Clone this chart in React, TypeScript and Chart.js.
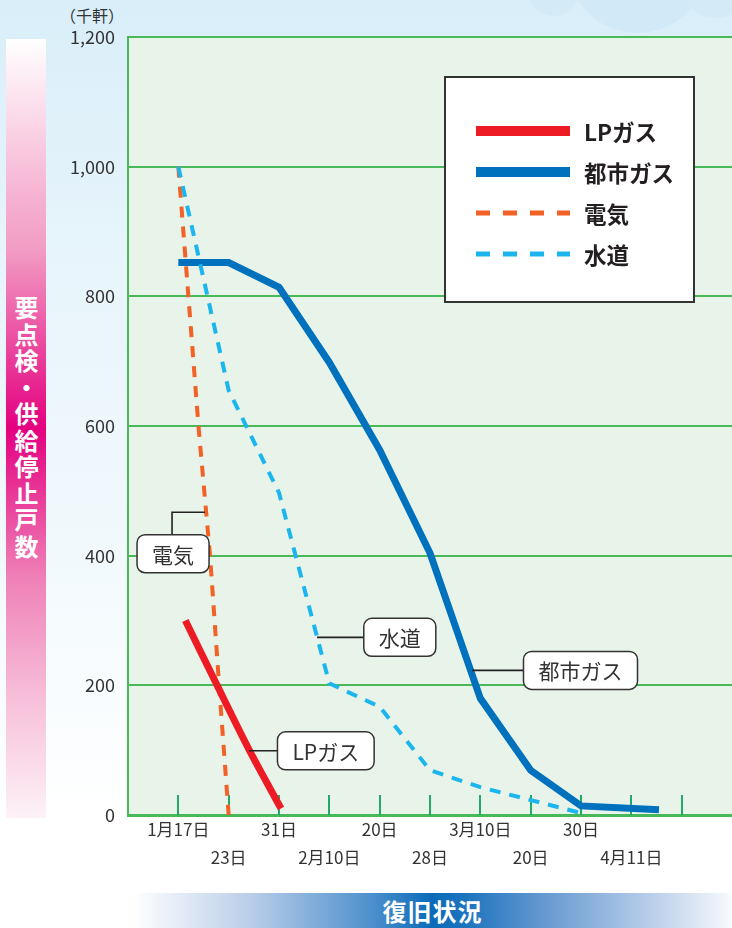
import React, { useEffect, useRef } from 'react';
import { Chart, registerables } from 'chart.js';

Chart.register(...registerables);

// ---- data (x in date-step units: 0 = 1月17日, 1 = 23日, ...) ----
const dateLabels = ['1月17日', '23日', '31日', '2月10日', '20日', '28日', '3月10日', '20日', '30日', '4月11日'];
const yTickValues = [0, 200, 400, 600, 800, 1000, 1200];

const lpgasX = [0.14, 0.77, 1.41, 2.04];
const lpgasY = [300, 200, 100, 10];

const cityGasX = [0, 1, 2, 3, 4, 5, 6, 7, 8, 9.55];
const cityGasY = [852, 852, 814, 698, 563, 404, 180, 69, 14, 8];

const electricX = [0, 0.2, 0.4, 0.63, 0.81, 1.0];
const electricY = [1000, 800, 600, 400, 200, 0];

const waterX = [0, 1, 2, 3, 4, 5, 6, 7, 8];
const waterY = [1000, 655, 497, 203, 167, 69, 43, 23, 3];

const seriesNames = ['LPガス', '都市ガス', '電気', '水道'];

// ---- styling / annotation config ----
const FONT = '"Noto Sans CJK JP", "Noto Sans", sans-serif';
const PLOT_BG = '#e8f3ea';
const GRID_GREEN = '#48b858';
const TICK_GREEN = '#22a868';
const TEXT = '#333333';

const callouts = [
  { text: '電気', box: [-0.105, 403], leader: [[0.53, 467], [-0.125, 467], [-0.125, 403]] },
  { text: '水道', box: [4.4, 274], leader: [[2.756, 274], [4.4, 274]] },
  { text: '都市ガス', box: [7.99, 223], leader: [[5.835, 223], [7.99, 223]] },
  { text: 'LPガス', box: [2.93, 99], leader: [[1.405, 99], [2.93, 99]] },
];

const zip = (xs: number[], ys: number[]) => xs.map((x, i) => ({ x, y: ys[i] }));

function roundRect(ctx: CanvasRenderingContext2D, x: number, y: number, w: number, h: number, r: number) {
  ctx.beginPath();
  ctx.moveTo(x + r, y);
  ctx.lineTo(x + w - r, y);
  ctx.arcTo(x + w, y, x + w, y + r, r);
  ctx.lineTo(x + w, y + h - r);
  ctx.arcTo(x + w, y + h, x + w - r, y + h, r);
  ctx.lineTo(x + r, y + h);
  ctx.arcTo(x, y + h, x, y + h - r, r);
  ctx.lineTo(x, y + r);
  ctx.arcTo(x, y, x + r, y, r);
  ctx.closePath();
}

const decorPlugin = {
  id: 'decor',
  beforeDraw(chart: any) {
    const { ctx, chartArea: a } = chart;
    ctx.save();
    ctx.fillStyle = PLOT_BG;
    ctx.fillRect(a.left, a.top, a.right - a.left, a.bottom - a.top);
    ctx.restore();
  },
  beforeDatasetsDraw(chart: any) {
    const { ctx, chartArea: a } = chart;
    const xs = chart.scales.x;
    ctx.save();
    ctx.strokeStyle = TICK_GREEN;
    ctx.lineWidth = 2;
    for (let i = 0; i <= dateLabels.length; i++) {
      const px = Math.round(xs.getPixelForValue(i));
      ctx.beginPath();
      ctx.moveTo(px, a.bottom);
      ctx.lineTo(px, a.bottom - 20);
      ctx.stroke();
    }
    ctx.restore();
  },
  afterDatasetsDraw(chart: any) {
    const { ctx } = chart;
    const xs = chart.scales.x;
    const ys = chart.scales.y;
    ctx.save();
    ctx.font = `21px ${FONT}`;
    for (const c of callouts) {
      ctx.strokeStyle = '#222';
      ctx.lineWidth = 1.6;
      ctx.beginPath();
      c.leader.forEach((p, i) => {
        const px = xs.getPixelForValue(p[0]);
        const py = ys.getPixelForValue(p[1]);
        if (i === 0) ctx.moveTo(px, py);
        else ctx.lineTo(px, py);
      });
      ctx.stroke();
      const cx = xs.getPixelForValue(c.box[0]);
      const cy = ys.getPixelForValue(c.box[1]);
      const w = ctx.measureText(c.text).width + 30;
      const h = 38;
      roundRect(ctx, cx - w / 2, cy - h / 2, w, h, 8);
      ctx.fillStyle = '#ffffff';
      ctx.fill();
      ctx.strokeStyle = '#333';
      ctx.lineWidth = 1.5;
      ctx.stroke();
      ctx.fillStyle = TEXT;
      ctx.textAlign = 'center';
      ctx.textBaseline = 'middle';
      ctx.fillText(c.text, cx, cy + 1);
    }
    ctx.restore();
  },
  afterDraw(chart: any) {
    const { ctx, chartArea: a } = chart;
    const left = a.left + 317;
    const top = a.top + 40;
    const w = 249;
    const h = 225;
    ctx.save();
    ctx.fillStyle = '#ffffff';
    ctx.fillRect(left, top, w, h);
    ctx.strokeStyle = '#333';
    ctx.lineWidth = 2;
    ctx.strokeRect(left, top, w, h);
    chart.data.datasets.forEach((ds: any, i: number) => {
      const y = top + 54 + i * 41;
      ctx.strokeStyle = ds.borderColor;
      const dashed = ds.borderDash && ds.borderDash.length;
      ctx.lineWidth = dashed ? 5 : 10;
      ctx.setLineDash(dashed ? [14, 13] : []);
      ctx.lineCap = 'butt';
      ctx.beginPath();
      ctx.moveTo(left + 31, y);
      ctx.lineTo(left + 125, y);
      ctx.stroke();
      ctx.setLineDash([]);
      ctx.fillStyle = '#231f20';
      ctx.font = `bold 22.5px ${FONT}`;
      ctx.textAlign = 'left';
      ctx.textBaseline = 'middle';
      ctx.fillText(ds.label, left + 139, y + 1);
    });
    ctx.restore();
  },
};

export default function App() {
  const canvasRef = useRef<HTMLCanvasElement>(null);

  useEffect(() => {
    if (!canvasRef.current) return;
    const chart = new Chart(canvasRef.current, {
      type: 'line',
      data: {
        datasets: [
          {
            label: seriesNames[0],
            data: zip(lpgasX, lpgasY),
            borderColor: '#ed1c24',
            borderWidth: 7,
            tension: 0.3,
            borderCapStyle: 'butt',
            order: 0,
          },
          {
            label: seriesNames[1],
            data: zip(cityGasX, cityGasY),
            borderColor: '#0071bc',
            borderWidth: 7,
            tension: 0,
            borderJoinStyle: 'miter',
            borderCapStyle: 'butt',
            order: 3,
          },
          {
            label: seriesNames[2],
            data: zip(electricX, electricY),
            borderColor: '#f26125',
            borderWidth: 4,
            borderDash: [11, 9],
            tension: 0,
            borderCapStyle: 'butt',
            order: 2,
          },
          {
            label: seriesNames[3],
            data: zip(waterX, waterY),
            borderColor: '#1cb6ee',
            borderWidth: 4,
            borderDash: [11, 9],
            tension: 0,
            borderCapStyle: 'butt',
            order: 1,
          },
        ],
      } as any,
      options: {
        animation: false,
        responsive: false,
        maintainAspectRatio: false,
        layout: { padding: { top: 37, right: 0, bottom: 53, left: 0 } },
        elements: { point: { radius: 0, hoverRadius: 0 } },
        plugins: { legend: { display: false }, tooltip: { enabled: false } },
        events: [],
        scales: {
          x: {
            type: 'linear',
            min: -1,
            max: 11,
            afterBuildTicks: (s: any) => {
              const t = [];
              for (let i = -1; i <= 11; i++) t.push({ value: i });
              s.ticks = t;
            },
            grid: { display: false, drawTicks: false },
            border: { display: true, color: GRID_GREEN, width: 3 },
            ticks: {
              autoSkip: false,
              maxRotation: 0,
              minRotation: 0,
              padding: 0,
              color: TEXT,
              font: { family: FONT, size: 17, lineHeight: 1.68 },
              callback: (v: any) => {
                const i = Number(v);
                if (Number.isInteger(i) && i >= 0 && i < dateLabels.length) {
                  return i % 2 === 0 ? [dateLabels[i], ''] : ['', dateLabels[i]];
                }
                return '';
              },
            },
            afterFit: (s: any) => {
              s.height = 60;
            },
          },
          y: {
            type: 'linear',
            min: 0,
            max: 1200,
            afterBuildTicks: (s: any) => {
              s.ticks = yTickValues.map((v) => ({ value: v }));
            },
            grid: { color: GRID_GREEN, lineWidth: 2, drawTicks: false },
            border: { display: true, color: GRID_GREEN, width: 2 },
            ticks: {
              padding: 13,
              color: TEXT,
              font: { family: FONT, size: 18 },
              callback: (v: any) => Number(v).toLocaleString('en-US'),
            },
            afterFit: (s: any) => {
              s.width = 128;
            },
          },
        },
      } as any,
      plugins: [decorPlugin],
    });
    return () => chart.destroy();
  }, []);

  return (
    <div
      style={{
        position: 'fixed',
        left: 0,
        top: 0,
        width: 732,
        height: 928,
        overflow: 'hidden',
        background: 'linear-gradient(to bottom, #d9eef9 0%, #e6f4fb 25%, #f2f9fd 60%, #ffffff 88%)',
        fontFamily: FONT,
      }}
    >
      {/* clouds */}
      <div style={{ position: 'absolute', left: 530, top: -28, width: 48, height: 44, borderRadius: '50%', background: '#d4eaf7' }} />
      <div style={{ position: 'absolute', left: 570, top: -95, width: 135, height: 128, borderRadius: '50%', background: '#d2e9f7' }} />
      <div style={{ position: 'absolute', left: 685, top: -30, width: 60, height: 48, borderRadius: '50%', background: '#d4eaf7' }} />

      {/* left vertical title bar */}
      <div
        style={{
          position: 'absolute',
          left: 6,
          top: 39,
          width: 40,
          height: 779,
          background:
            'linear-gradient(to bottom, #ffffff 0%, #f6b3d2 20%, #f29cc4 27%, #e4007f 50%, #ef80b7 69%, #f7c0da 85%, #fdf2f7 100%)',
          display: 'flex',
          alignItems: 'center',
          justifyContent: 'center',
        }}
      >
        <span
          style={{
            writingMode: 'vertical-rl',
            color: '#ffffff',
            fontWeight: 'bold',
            fontSize: 24,
            letterSpacing: 2.5,
            lineHeight: 1,
          }}
        >
          要点検・供給停止戸数
        </span>
      </div>

      {/* unit */}
      <div
        style={{
          position: 'absolute',
          left: 52,
          top: 4,
          width: 80,
          textAlign: 'center',
          fontSize: 16,
          color: TEXT,
          lineHeight: '22px',
        }}
      >
        （千軒）
      </div>

      {/* bottom bar */}
      <div
        style={{
          position: 'absolute',
          left: 133,
          top: 893,
          width: 599,
          height: 35,
          background:
            'linear-gradient(to right, #ffffff 0%, #b8cde9 20%, #4c8fcc 40%, #0b6bb8 50%, #1f75bf 56%, #6d9dd3 70%, #c9d9ef 90%, #f8fafd 100%)',
          display: 'flex',
          alignItems: 'center',
          justifyContent: 'center',
        }}
      >
        <span style={{ color: '#ffffff', fontWeight: 'bold', fontSize: 24, letterSpacing: 1 }}>復旧状況</span>
      </div>

      <canvas ref={canvasRef} width={732} height={928} style={{ position: 'absolute', left: 0, top: 0 }} />
    </div>
  );
}
